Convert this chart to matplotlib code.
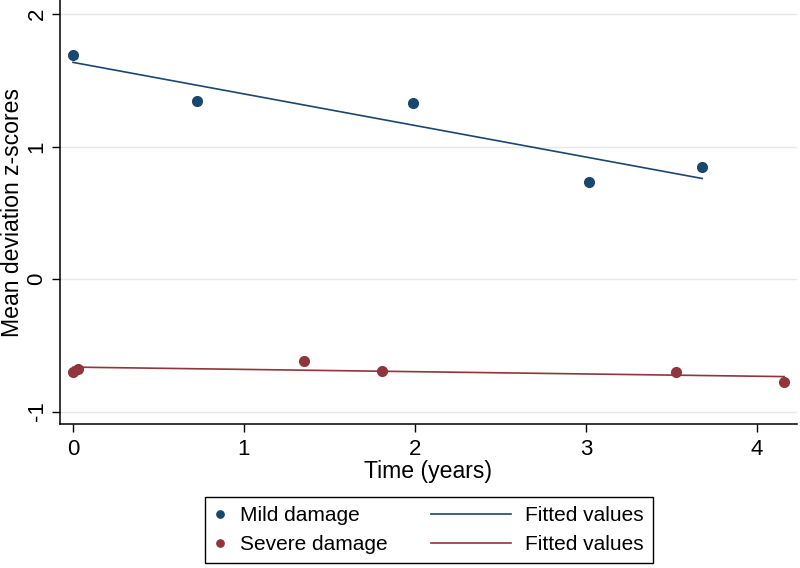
import numpy as np
import matplotlib
matplotlib.use("Agg")
import matplotlib.pyplot as plt
from matplotlib.legend_handler import HandlerLine2D

plt.rcParams['font.family'] = ['Liberation Sans', 'DejaVu Sans']
plt.rcParams['axes.unicode_minus'] = False

# data
mild_t = [0.0, 0.725, 1.99, 3.02, 3.68]
mild_z = [1.69, 1.34, 1.33, 0.73, 0.845]
severe_t = [0.0, 0.03, 1.35, 1.81, 3.53, 4.16]
severe_z = [-0.70, -0.68, -0.62, -0.695, -0.70, -0.78]

xticks = [0, 1, 2, 3, 4]
yticks = [-1, 0, 1, 2]

blue = '#1a476f'
red = '#90353b'


# linear fits (Stata "Fitted values")
def fit(t, z):
    p = np.polyfit(t, z, 1)
    tt = np.array([min(t), max(t)])
    return tt, np.polyval(p, tt)


class LongLine(HandlerLine2D):
    # stretch the legend line to the left, so the marker column can stay short
    def get_xdata(self, legend, xdescent, ydescent, width, height, fontsize):
        xd, xm = super().get_xdata(legend, xdescent, ydescent, width, height, fontsize)
        return [-xdescent - 3.25 * fontsize, -xdescent + width], xm


fig = plt.figure(figsize=(8, 5.68), dpi=100)
ax = fig.add_axes([0.075, 0.2535, 0.921, 0.7465])

ax.grid(axis='y', color='#e8e8e8', lw=1)
ax.set_axisbelow(True)

p1, = ax.plot(mild_t, mild_z, 'o', color=blue, ms=7, label='Mild damage')
p2, = ax.plot(severe_t, severe_z, 'o', color=red, ms=7, label='Severe damage')
ft, fz = fit(mild_t, mild_z)
l1, = ax.plot(ft, fz, color=blue, lw=1.2, label='Fitted values')
ft, fz = fit(severe_t, severe_z)
l2, = ax.plot(ft, fz, color=red, lw=1.2, label='Fitted values')

ax.set_xlim(-0.076, 4.234)
ax.set_ylim(-1.094, 2.106)
ax.set_xticks(xticks)
ax.set_yticks(yticks)
ax.tick_params(axis='both', labelsize=16, length=6, width=1)
ax.tick_params(axis='x', pad=5)
ax.tick_params(axis='y', pad=3)
plt.setp(ax.get_yticklabels(), rotation=90, va='center')
for s in ['top', 'right']:
    ax.spines[s].set_visible(False)
for s in ['left', 'bottom']:
    ax.spines[s].set_linewidth(1.1)
ax.set_xlabel('Time (years)', fontsize=16.6, labelpad=0)
ax.set_ylabel('Mean deviation z-scores', fontsize=16.6, labelpad=2)

leg = fig.legend([p1, p2, l1, l2],
                 ['Mild damage', 'Severe damage', 'Fitted values', 'Fitted values'],
                 ncol=2, loc='center', bbox_to_anchor=(0.536, 0.0669),
                 fontsize=15, handlelength=0.6, handletextpad=0.67,
                 columnspacing=5.3, labelspacing=0.46, borderpad=0.45,
                 fancybox=False, edgecolor='black', framealpha=1,
                 markerscale=0.75,
                 handler_map={l1: LongLine(), l2: LongLine()})
leg.get_frame().set_linewidth(1.0)

fig.savefig('out.png', dpi=100)
